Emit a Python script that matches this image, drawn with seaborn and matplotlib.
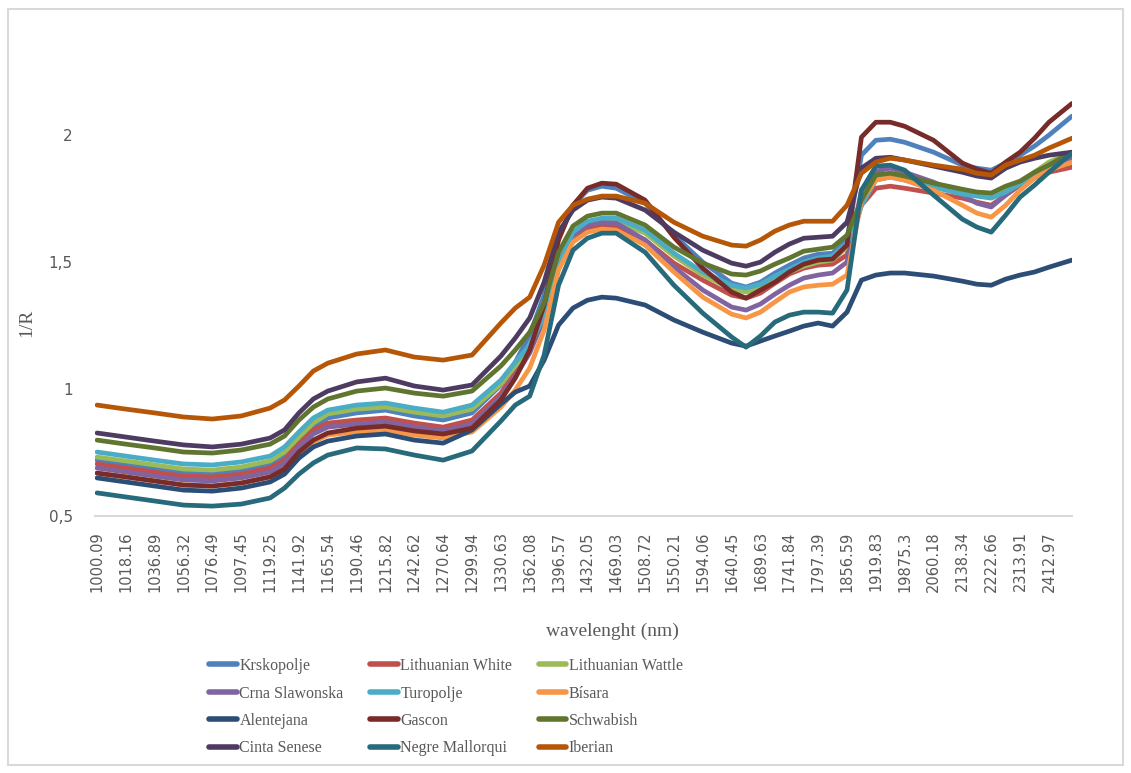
import matplotlib
matplotlib.use("Agg")
import matplotlib.pyplot as plt
from matplotlib.lines import Line2D
from matplotlib.patches import Rectangle
import numpy as np
import pandas as pd
import seaborn as sns

# ---- data -------------------------------------------------------------
tick_labels = ["1000.09", "1018.16", "1036.89", "1056.32", "1076.49", "1097.45",
               "1119.25", "1141.92", "1165.54", "1190.46", "1215.82", "1242.62",
               "1270.64", "1299.94", "1330.63", "1362.08", "1396.57", "1432.05",
               "1469.03", "1508.72", "1550.21", "1594.06", "1640.45", "1689.63",
               "1741.84", "1797.39", "1856.59", "1919.83", "19875.3", "2060.18",
               "2138.34", "2222.66", "2313.91", "2412.97"]

# position of each sampled band along the category axis (in tick-label units)
band_pos = [0, 1, 2, 3, 4, 5, 6, 6.5, 7, 7.5, 8, 9, 10, 11, 12, 13, 14, 14.5, 15, 15.5,
            16, 16.5, 17, 17.5, 18, 19, 20, 21, 22, 22.5, 23, 23.5, 24, 24.5, 25, 25.5,
            26, 26.5, 27, 27.5, 28, 29, 30, 30.5, 31, 31.5, 32, 32.5, 33, 33.8]

krskopolje = [0.720, 0.705, 0.689, 0.673, 0.669, 0.681, 0.705, 0.736, 0.799, 0.854,
              0.886, 0.906, 0.917, 0.894, 0.878, 0.906, 1.016, 1.106, 1.213, 1.370,
              1.594, 1.724, 1.783, 1.799, 1.791, 1.732, 1.606, 1.500, 1.417, 1.402,
              1.421, 1.457, 1.488, 1.516, 1.531, 1.535, 1.587, 1.921, 1.980, 1.984,
              1.972, 1.933, 1.882, 1.870, 1.862, 1.890, 1.921, 1.957, 2.000, 2.075]
lithuanian_white = [0.705, 0.689, 0.673, 0.657, 0.654, 0.665, 0.689, 0.720, 0.787, 0.839,
                    0.866, 0.878, 0.886, 0.866, 0.850, 0.878, 0.984, 1.067, 1.154, 1.291,
                    1.500, 1.598, 1.634, 1.646, 1.642, 1.587, 1.496, 1.429, 1.370, 1.358,
                    1.378, 1.417, 1.453, 1.476, 1.488, 1.492, 1.528, 1.724, 1.791, 1.799,
                    1.791, 1.772, 1.752, 1.736, 1.724, 1.764, 1.803, 1.831, 1.854, 1.874]
lithuanian_wattle = [0.732, 0.717, 0.701, 0.685, 0.681, 0.693, 0.717, 0.752, 0.811, 0.866,
                     0.902, 0.921, 0.929, 0.909, 0.894, 0.921, 1.020, 1.091, 1.157, 1.272,
                     1.476, 1.606, 1.650, 1.661, 1.661, 1.614, 1.524, 1.449, 1.394, 1.382,
                     1.398, 1.429, 1.461, 1.484, 1.500, 1.508, 1.559, 1.724, 1.831, 1.843,
                     1.831, 1.803, 1.776, 1.764, 1.756, 1.783, 1.815, 1.854, 1.894, 1.933]
crna_slawonska = [0.689, 0.673, 0.657, 0.642, 0.638, 0.650, 0.673, 0.705, 0.772, 0.823,
                  0.850, 0.862, 0.870, 0.850, 0.835, 0.862, 0.969, 1.051, 1.142, 1.280,
                  1.500, 1.606, 1.646, 1.657, 1.654, 1.587, 1.480, 1.390, 1.323, 1.311,
                  1.335, 1.374, 1.409, 1.437, 1.449, 1.457, 1.500, 1.783, 1.858, 1.870,
                  1.854, 1.815, 1.764, 1.732, 1.717, 1.764, 1.811, 1.843, 1.882, 1.909]
turopolje = [0.752, 0.736, 0.720, 0.705, 0.701, 0.713, 0.736, 0.772, 0.831, 0.886,
             0.917, 0.937, 0.945, 0.925, 0.909, 0.937, 1.035, 1.106, 1.173, 1.287,
             1.488, 1.618, 1.661, 1.673, 1.673, 1.626, 1.535, 1.461, 1.409, 1.398,
             1.413, 1.445, 1.472, 1.500, 1.516, 1.524, 1.575, 1.724, 1.823, 1.835,
             1.823, 1.795, 1.768, 1.760, 1.752, 1.776, 1.807, 1.843, 1.882, 1.933]
bisara = [0.669, 0.654, 0.638, 0.622, 0.618, 0.630, 0.654, 0.681, 0.740, 0.791,
          0.819, 0.831, 0.839, 0.819, 0.807, 0.831, 0.929, 0.996, 1.083, 1.232,
          1.469, 1.579, 1.618, 1.630, 1.626, 1.567, 1.461, 1.362, 1.295, 1.280,
          1.303, 1.343, 1.382, 1.402, 1.409, 1.413, 1.449, 1.744, 1.823, 1.835,
          1.823, 1.783, 1.724, 1.693, 1.677, 1.724, 1.783, 1.831, 1.862, 1.894]
alentejana = [0.650, 0.634, 0.618, 0.602, 0.598, 0.610, 0.634, 0.665, 0.728, 0.772,
              0.795, 0.815, 0.823, 0.799, 0.787, 0.839, 0.941, 0.988, 1.012, 1.114,
              1.252, 1.319, 1.350, 1.362, 1.358, 1.331, 1.272, 1.224, 1.181, 1.169,
              1.189, 1.209, 1.228, 1.248, 1.260, 1.248, 1.303, 1.429, 1.449, 1.457,
              1.457, 1.445, 1.425, 1.413, 1.409, 1.433, 1.449, 1.461, 1.480, 1.508]
gascon = [0.669, 0.654, 0.638, 0.622, 0.618, 0.630, 0.654, 0.685, 0.752, 0.799,
          0.827, 0.846, 0.854, 0.835, 0.823, 0.846, 0.957, 1.043, 1.154, 1.331,
          1.587, 1.724, 1.791, 1.811, 1.807, 1.744, 1.598, 1.476, 1.382, 1.358,
          1.390, 1.421, 1.461, 1.492, 1.508, 1.512, 1.567, 1.992, 2.051, 2.051,
          2.035, 1.980, 1.890, 1.866, 1.850, 1.894, 1.933, 1.988, 2.051, 2.125]
schwabish = [0.799, 0.783, 0.768, 0.752, 0.748, 0.760, 0.783, 0.815, 0.878, 0.929,
             0.961, 0.992, 1.004, 0.984, 0.972, 0.992, 1.091, 1.154, 1.224, 1.339,
             1.539, 1.642, 1.681, 1.693, 1.693, 1.646, 1.559, 1.496, 1.453, 1.449,
             1.465, 1.492, 1.516, 1.543, 1.551, 1.559, 1.606, 1.744, 1.843, 1.850,
             1.839, 1.811, 1.787, 1.776, 1.772, 1.799, 1.819, 1.854, 1.882, 1.933]
cinta_senese = [0.827, 0.811, 0.795, 0.780, 0.772, 0.783, 0.807, 0.839, 0.906, 0.961,
                0.992, 1.028, 1.043, 1.012, 0.996, 1.016, 1.130, 1.201, 1.280, 1.421,
                1.618, 1.705, 1.744, 1.756, 1.752, 1.705, 1.618, 1.547, 1.496, 1.484,
                1.500, 1.539, 1.571, 1.594, 1.598, 1.602, 1.657, 1.870, 1.909, 1.913,
                1.902, 1.878, 1.854, 1.839, 1.831, 1.870, 1.894, 1.909, 1.921, 1.933]
negre_mallorqui = [0.591, 0.575, 0.559, 0.543, 0.539, 0.547, 0.571, 0.610, 0.665, 0.709,
                   0.740, 0.768, 0.764, 0.740, 0.720, 0.756, 0.874, 0.937, 0.972, 1.134,
                   1.409, 1.547, 1.594, 1.614, 1.614, 1.539, 1.409, 1.299, 1.205, 1.165,
                   1.209, 1.264, 1.291, 1.303, 1.303, 1.299, 1.390, 1.783, 1.878, 1.882,
                   1.862, 1.764, 1.669, 1.638, 1.618, 1.685, 1.756, 1.803, 1.854, 1.929]
iberian = [0.937, 0.921, 0.906, 0.890, 0.882, 0.894, 0.925, 0.957, 1.012, 1.071,
           1.102, 1.138, 1.154, 1.126, 1.114, 1.134, 1.260, 1.319, 1.362, 1.488,
           1.657, 1.724, 1.748, 1.760, 1.760, 1.732, 1.657, 1.602, 1.567, 1.563,
           1.587, 1.622, 1.646, 1.661, 1.661, 1.661, 1.724, 1.850, 1.894, 1.909,
           1.902, 1.882, 1.866, 1.850, 1.843, 1.882, 1.902, 1.921, 1.949, 1.988]

series_names = ["Krskopolje", "Lithuanian White", "Lithuanian Wattle", "Crna Slawonska",
                "Turopolje", "Bísara", "Alentejana", "Gascon", "Schwabish",
                "Cinta Senese", "Negre Mallorqui", "Iberian"]
series_values = [krskopolje, lithuanian_white, lithuanian_wattle, crna_slawonska,
                 turopolje, bisara, alentejana, gascon, schwabish,
                 cinta_senese, negre_mallorqui, iberian]
series_colors = ["#4F81BD", "#C0504D", "#9BBB59", "#8064A2", "#4BACC6", "#F79646",
                 "#2C4D75", "#772C2A", "#5F7530", "#4D3B62", "#276A7C", "#B65708"]

# ---- build long table -------------------------------------------------
rows = []
for name, vals in zip(series_names, series_values):
    for p, v in zip(band_pos, vals):
        rows.append({"band": p, "value": v, "breed": name})
df = pd.DataFrame(rows)
palette = dict(zip(series_names, series_colors))

# ---- figure ------------------------------------------------------------
sns.set_theme(style="white")
W, H = 1131, 773
fig = plt.figure(figsize=(W / 100, H / 100), dpi=100)
ax = fig.add_axes([95 / W, 1 - 516 / H, (1072 - 95) / W, (516 - 59) / H])

sns.lineplot(data=df, x="band", y="value", hue="breed", hue_order=series_names,
             palette=palette, sort=False, estimator=None, linewidth=3.4,
             legend=False, ax=ax)
for ln in ax.lines:
    ln.set_solid_joinstyle("round")
    ln.set_solid_capstyle("round")

ax.set_xlim(-0.07, 33.8)
ax.set_ylim(0.5, 2.3)

tick_font = "DejaVu Sans"
grey = "#595959"
ax.set_xticks(range(len(tick_labels)))
ax.set_xticklabels(tick_labels, rotation=90, family=tick_font, fontsize=10.5, color=grey)
ax.set_yticks([0.5, 1.0, 1.5, 2.0])
ax.set_yticklabels(["0,5", "1", "1,5", "2"], family=tick_font, fontsize=11, color=grey)
ax.tick_params(axis="x", length=0, pad=11)
ax.tick_params(axis="y", length=0, pad=16)

for s in ["top", "right", "left"]:
    ax.spines[s].set_visible(False)
ax.spines["bottom"].set_color("#D9D9D9")
ax.spines["bottom"].set_linewidth(1.5)
ax.grid(False)

serif = "Liberation Serif"
ax.set_xlabel("")
ax.set_ylabel("")
fig.text(612 / W, 1 - 631 / H, "wavelenght (nm)", family=serif, fontsize=14,
         color=grey, ha="center", va="center")
fig.text(27 / W, 1 - 323 / H, "1/R", family=serif, fontsize=14, color=grey,
         ha="center", va="center", rotation=90)

# legend laid out row-wise like the original (3 columns)
handles = {n: Line2D([0], [0], color=c, lw=4, solid_capstyle="round")
           for n, c in zip(series_names, series_colors)}
order = ["Krskopolje", "Crna Slawonska", "Alentejana", "Cinta Senese",
         "Lithuanian White", "Turopolje", "Gascon", "Negre Mallorqui",
         "Lithuanian Wattle", "Bísara", "Schwabish", "Iberian"]
leg = fig.legend([handles[n] for n in order], order, ncol=3, loc="upper left",
                 bbox_to_anchor=(209 / W, 1 - 658 / H), frameon=False,
                 prop={"family": serif, "size": 11.5}, handlelength=1.75,
                 handletextpad=0.15, columnspacing=1.65, labelspacing=0.72,
                 borderpad=0, borderaxespad=0)
for t in leg.get_texts():
    t.set_color(grey)

fig.patches.append(Rectangle((8 / W, 1 - 765 / H), (1123 - 8) / W, (765 - 9) / H,
                             transform=fig.transFigure, fill=False,
                             edgecolor="#D9D9D9", linewidth=1.5))

fig.savefig("out.png", dpi=100)
